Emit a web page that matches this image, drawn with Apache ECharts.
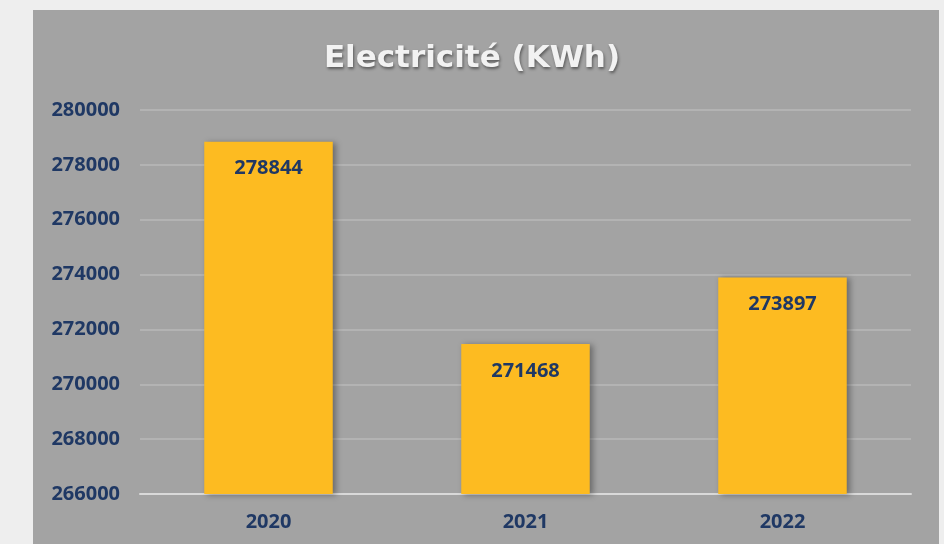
<!DOCTYPE html>
<html>
<head>
<meta charset="utf-8">
<script src="https://cdn.jsdelivr.net/npm/echarts@6/dist/echarts.min.js"></script>
<style>
    html, body { margin: 0; padding: 0; background: #eeeeee; }
    #main { width: 944px; height: 544px; }
</style>
</head>
<body>
<div id="main"></div>
<script>
const years = ["2020", "2021", "2022"];
const values = [278844, 271468, 273897];
const yMin = 266000;
const yMax = 280000;
const yStep = 2000;

const navy = "#1f3864";
const chart = echarts.init(document.getElementById("main"));

chart.setOption({
    animation: false,
    backgroundColor: "#eeeeee",
    graphic: [
        {
            type: "rect",
            z: -10,
            shape: { x: 33, y: 10, width: 906, height: 540 },
            style: { fill: "#a3a3a3" },
        },
    ],
    title: {
        text: "Electricité (KWh)",
        left: "center",
        top: 38,
        textStyle: {
            color: "#f2f2f2",
            fontSize: 31,
            fontWeight: "bold",
            fontFamily: "DejaVu Sans",
            textShadowColor: "rgba(0,0,0,0.45)",
            textShadowBlur: 3,
            textShadowOffsetX: 1,
            textShadowOffsetY: 2,
        },
    },
    grid: {
        left: 140,
        right: 33,
        top: 110,
        bottom: 50,
    },
    xAxis: {
        type: "category",
        data: years,
        axisTick: { show: false },
        axisLine: {
            show: true,
            lineStyle: { color: "#d9d9d9", width: 2 },
        },
        axisLabel: {
            color: navy,
            fontSize: 20,
            fontWeight: "bold",
            fontFamily: "Open Sans",
            margin: 18,
        },
    },
    yAxis: {
        type: "value",
        min: yMin,
        max: yMax,
        interval: yStep,
        axisLine: { show: false },
        axisTick: { show: false },
        splitLine: {
            lineStyle: { color: "#b3b3b3", width: 2 },
        },
        axisLabel: {
            color: navy,
            fontSize: 20,
            fontWeight: "bold",
            fontFamily: "Open Sans",
            margin: 20,
            formatter: value => String(value),
        },
    },
    series: [
        {
            type: "bar",
            data: values,
            barWidth: "50%",
            itemStyle: {
                color: "#fdbb21",
                shadowColor: "rgba(0,0,0,0.35)",
                shadowBlur: 6,
                shadowOffsetX: 3,
                shadowOffsetY: 1,
            },
            label: {
                show: true,
                position: "insideTop",
                distance: 17,
                color: navy,
                fontSize: 20,
                fontWeight: "bold",
                fontFamily: "Open Sans",
            },
        },
    ],
});
</script>
</body>
</html>
